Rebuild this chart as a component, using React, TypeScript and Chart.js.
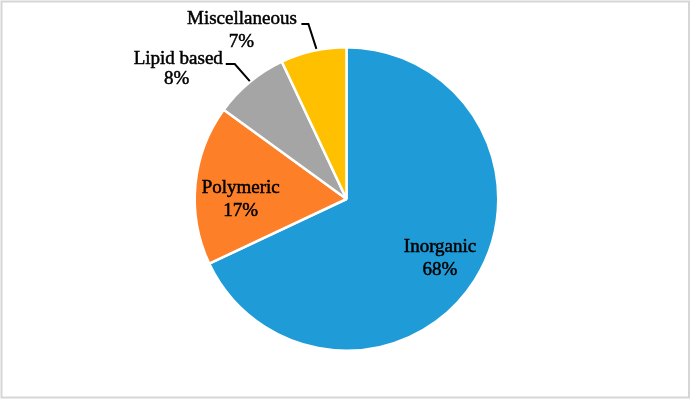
import React, { useEffect, useRef } from "react";
import { Chart, registerables } from "chart.js";

Chart.register(...registerables);

const categories = ["Inorganic", "Polymeric", "Lipid based", "Miscellaneous"];
const values = [68, 17, 8, 7];
const colors = ["#1f9bd8", "#fd7f27", "#a5a5a5", "#ffc000"];

const labelPlugin = {
  id: "labelPlugin",
  afterDraw(chart: any) {
    const ctx = chart.ctx;
    const meta = chart.getDatasetMeta(0);
    ctx.save();
    // frame
    ctx.strokeStyle = "#d6d6d6";
    ctx.lineWidth = 2;
    ctx.strokeRect(1.5, 1.5, chart.width - 3.5, chart.height - 4);
    ctx.font = "19px 'Liberation Serif', 'Times New Roman', serif";
    ctx.fillStyle = "#000";
    ctx.textAlign = "center";
    ctx.textBaseline = "middle";
    const txt = (s: string, tx: number, ty: number) => {
      ctx.lineWidth = 0.5;
      ctx.strokeStyle = "#000";
      ctx.fillText(s, tx, ty);
      ctx.strokeText(s, tx, ty);
    };
    meta.data.forEach((arc: any, i: number) => {
      const { x, y, startAngle, endAngle, outerRadius } = arc.getProps(
        ["x", "y", "startAngle", "endAngle", "outerRadius"],
        true
      );
      const mid = (startAngle + endAngle) / 2;
      const name = categories[i];
      const pct = values[i] + "%";
      if (i < 2) {
        const r = outerRadius * (i === 0 ? 0.73 : 0.7);
        const cx = x + Math.cos(mid) * r;
        const cy = y + Math.sin(mid) * r + (i === 1 ? 10 : 0);
        txt(name, cx, cy - 11);
        txt(pct, cx, cy + 12);
      } else {
        const ex = x + Math.cos(mid) * outerRadius;
        const ey = y + Math.sin(mid) * outerRadius;
        ctx.strokeStyle = "#000";
        ctx.lineWidth = 2;
        ctx.beginPath();
        if (i === 2) {
          ctx.moveTo(ex, ey - 1);
          ctx.lineTo(ex - 15, ey - 18);
          ctx.lineTo(ex - 24, ey - 18);
          ctx.stroke();
          txt(name, ex - 71.5, ey - 23);
          txt(pct, ex - 73, ey - 3);
        } else {
          ctx.moveTo(ex + 3, ey - 2);
          ctx.lineTo(ex - 5, ey - 27);
          ctx.lineTo(ex - 12, ey - 27);
          ctx.stroke();
          txt(name, ex - 71.5, ey - 32);
          txt(pct, ex - 72, ey - 9);
        }
      }
    });
    ctx.restore();
  },
};

export default function App() {
  const ref = useRef<HTMLCanvasElement>(null);
  useEffect(() => {
    document.body.style.margin = "0";
    const chart = new Chart(ref.current!, {
      type: "pie",
      data: {
        labels: categories,
        datasets: [
          {
            data: values,
            backgroundColor: colors,
            borderColor: "#ffffff",
            borderWidth: 2.5,
          },
        ],
      },
      options: {
        animation: false,
        responsive: false,
        layout: { padding: { top: 46, bottom: 48, left: 2, right: 0 } },
        plugins: { legend: { display: false }, tooltip: { enabled: false } },
      },
      plugins: [labelPlugin],
    });
    return () => chart.destroy();
  }, []);
  return (
    <div style={{ width: 691, height: 400, background: "#fff" }}>
      <canvas ref={ref} width={691} height={400} />
    </div>
  );
}
